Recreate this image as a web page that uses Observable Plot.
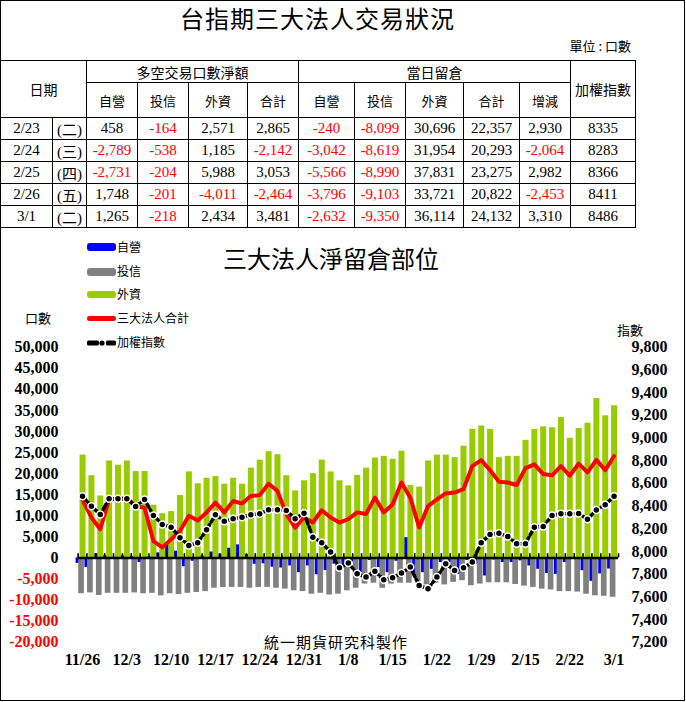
<!DOCTYPE html>
<html><head><meta charset="utf-8">
<script src="https://cdn.jsdelivr.net/npm/d3@7"></script>
<script src="https://cdn.jsdelivr.net/npm/@observablehq/plot@0.6"></script>
<style>
html,body{margin:0;padding:0;background:#fff;}
body{width:686px;height:702px;position:relative;overflow:hidden;font-family:"Noto Sans CJK TC",sans-serif;color:#000;}
.abs{position:absolute;white-space:nowrap;}
#frame{left:0;top:0;width:683px;height:699px;border:1px solid #000;}
table{position:absolute;left:0;top:60px;border-collapse:collapse;table-layout:fixed;}
td{border:1px solid #000;padding:0;text-align:center;vertical-align:middle;overflow:hidden;white-space:nowrap;}
td.h{font-family:"Noto Sans CJK TC";font-size:14px;}
td.n{font-family:"Liberation Serif","Noto Sans CJK TC";font-size:15px;}
.neg{color:#ff0000;}
.leg{position:absolute;left:87px;width:29px;}
.legt{position:absolute;left:117px;font-size:12px;line-height:14px;}
svg.sw{display:block;}
</style></head>
<body>
<div id="frame" class="abs"></div>
<div class="abs" style="left:0;top:3px;width:635px;text-align:center;font-size:24px;line-height:30px;letter-spacing:1px;">台指期三大法人交易狀況</div>
<div class="abs" style="left:500px;top:37px;width:131px;text-align:right;font-size:13px;line-height:18px;">單位 : 口數</div>
<table id="tbl"></table>
<div id="chart" class="abs" style="left:0;top:230px;"></div>
<div class="abs" style="left:223px;top:243px;font-size:24px;line-height:30px;">三大法人淨留倉部位</div>
<div class="abs" style="left:264px;top:632px;font-size:15px;line-height:20px;letter-spacing:1px;">統一期貨研究科製作</div>
<div class="abs" style="left:25px;top:309px;font-size:13px;line-height:18px;">口數</div>
<div class="abs" style="left:617px;top:321px;font-size:13px;line-height:18px;">指數</div>
<div id="legend"></div>
<script>
// ---- table data (last five sessions) ----
const tDates = ["2/23","2/24","2/25","2/26","3/1"];
const tWeekdays = ["(二)","(三)","(四)","(五)","(二)"];
const tradeDealer = [458,-2789,-2731,1748,1265];
const tradeTrust = [-164,-538,-204,-201,-218];
const tradeForeign = [2571,1185,5988,-4011,2434];
const tradeTotal = [2865,-2142,3053,-2464,3481];
const oiDealer = [-240,-3042,-5566,-3796,-2632];
const oiTrust = [-8099,-8619,-8990,-9103,-9350];
const oiForeign = [30696,31954,37831,33721,36114];
const oiTotal = [22357,20293,23275,20822,24132];
const oiChange = [2930,-2064,2982,-2453,3310];
const tIndex = [8335,8283,8366,8411,8486];

// ---- chart data ----
const dates = ["11/26","11/27","11/30","12/1","12/2","12/3","12/4","12/7","12/8","12/9","12/10","12/11","12/14","12/15","12/16","12/17","12/18","12/21","12/22","12/23","12/24","12/25","12/28","12/29","12/30","12/31","1/4","1/5","1/6","1/7","1/8","1/11","1/12","1/13","1/14","1/15","1/18","1/19","1/20","1/21","1/22","1/25","1/26","1/27","1/28","1/29","1/30","2/1","2/2","2/3","2/15","2/16","2/17","2/18","2/19","2/22","2/23","2/24","2/25","2/26","3/1"];
const dealer = [-1300,-2300,1000,500,-300,500,300,-1100,300,1200,3400,1600,-2100,-800,500,1400,900,2300,3100,800,-1500,-1400,-2200,-2400,-1900,-3500,-1900,-4000,-3000,-1500,-2000,-1000,-3500,-600,-2300,-3500,-800,4800,-3500,-3500,-2700,-1100,-1100,-3900,-600,-1500,-4300,-500,-1100,-1100,-700,-1900,-2700,-3700,-3900,-1100,-240,-3042,-5566,-3796,-2632];
const trust = [-8500,-8300,-8900,-8400,-8400,-8400,-8300,-8500,-8400,-9000,-8500,-8700,-8400,-8200,-8000,-7200,-7000,-7000,-7000,-7200,-7000,-7000,-7200,-7400,-7800,-8000,-8600,-8400,-8800,-8600,-7800,-7200,-6200,-6000,-7200,-6200,-6000,-6000,-5600,-6400,-6000,-6400,-5800,-5400,-6600,-6200,-5900,-5900,-5900,-6300,-6700,-7000,-7400,-7600,-8000,-8000,-8099,-8619,-8990,-9103,-9350];
const foreign = [24400,19500,14700,23000,22000,23000,20500,20500,12500,10500,11000,14800,20400,17600,18900,19300,17500,18900,17500,21300,23200,25200,24500,19500,15900,18300,20000,23200,20400,18300,17100,19600,21300,23700,24100,23400,25300,17200,16800,23000,24400,24400,23800,26500,30500,31300,30500,23800,24100,24100,27900,30500,31100,30900,33300,28400,30696,31954,37831,33721,36114];
const total = [13700,9600,6800,13900,14000,14200,12300,11900,4000,2500,4400,6400,10000,8900,10800,13100,10800,13500,12900,14700,14900,17600,15900,10400,7200,9600,8400,11300,9600,8400,9200,10800,10400,14300,10800,12700,17900,14300,7200,12300,13900,15300,15500,16300,21800,23200,20800,18100,17900,17300,21300,22200,19900,19600,21800,19500,22357,20293,23275,20822,24132];
const taiex = [8487,8399,8326,8464,8464,8464,8396,8458,8317,8238,8214,8121,8053,8077,8191,8323,8267,8288,8302,8323,8332,8367,8367,8361,8288,8337,8126,8077,7994,7856,7897,7804,7774,7826,7751,7768,7809,7862,7700,7671,7774,7892,7833,7856,7906,8077,8150,8161,8132,8068,8068,8214,8220,8317,8332,8332,8335,8283,8366,8411,8486];
const leftTicks = [-20000,-15000,-10000,-5000,0,5000,10000,15000,20000,25000,30000,35000,40000,45000,50000];
const rightTicks = [7200,7400,7600,7800,8000,8200,8400,8600,8800,9000,9200,9400,9600,9800];
const seriesNames = ["自營","投信","外資","三大法人合計","加權指數"];
const seriesColors = ["#0000ff","#808080","#99cc00","#ff0000","#000000"];

// ---- table ----
const locale = d3.formatLocale({decimal: ".", thousands: ",", grouping: [3], currency: ["", ""], minus: "-"});
const fmt = locale.format(",");
const tbl = document.getElementById("tbl");
const widths = [52,34,51,51,59,51,56,51,58,56,51,65];
let html = "<colgroup>" + widths.map(w => `<col style="width:${w}px">`).join("") + "</colgroup>";
html += `<tr style="height:22px"><td class="h" colspan="2" rowspan="2">日期</td><td class="h" colspan="4">多空交易口數淨額</td><td class="h" colspan="5">當日留倉</td><td class="h" rowspan="2">加權指數</td></tr>`;
html += `<tr style="height:35px">` + ["自營","投信","外資","合計","自營","投信","外資","合計","增減"].map(s => `<td class="h" style="font-size:13px">${s}</td>`).join("") + `</tr>`;
const cell = v => `<td class="n${v < 0 ? " neg" : ""}">${fmt(v)}</td>`;
tDates.forEach((d, i) => {
  html += `<tr style="height:21px"><td class="n">${d}</td><td class="n">${tWeekdays[i]}</td>` +
    [tradeDealer[i], tradeTrust[i], tradeForeign[i], tradeTotal[i], oiDealer[i], oiTrust[i], oiForeign[i], oiTotal[i], oiChange[i]].map(cell).join("") +
    `<td class="n">${tIndex[i]}</td></tr>`;
});
tbl.innerHTML = html;

// ---- legend ----
const leg = document.getElementById("legend");
const legY = [247, 271.5, 294.5, 318.5, 342.5];
const legH = [8, 8, 7, 5, 5];
seriesNames.forEach((name, i) => {
  if (i < 4) {
    const s = document.createElement("div");
    s.className = "leg";
    s.style.cssText = `top:${legY[i] - legH[i] / 2}px;height:${legH[i]}px;background:${seriesColors[i]};border-radius:3px;`;
    leg.appendChild(s);
  } else {
    const s = document.createElement("div");
    s.style.cssText = `position:absolute;left:87px;top:${legY[i] - 4}px;width:29px;height:8px;line-height:0;`;
    s.innerHTML = `<svg class="sw" width="29" height="8"><rect x="0" y="1.5" width="12" height="5" rx="1.5" fill="#000"/><circle cx="15" cy="4" r="2.6" fill="#000"/><rect x="19" y="1.5" width="10" height="5" rx="1.5" fill="#000"/></svg>`;
    leg.appendChild(s);
  }
  const t = document.createElement("div");
  t.className = "legt";
  t.style.top = (legY[i] - 7.5) + "px";
  t.textContent = name;
  leg.appendChild(t);
});

// ---- chart ----
const n = dates.length;
const idxToY = v => (v - 7200) / 2600 * 70000 - 20000;
const yToIdx = u => (u + 20000) / 70000 * 2600 + 7200;
const rows = dates.map((d, i) => ({i, date: d, dealer: dealer[i], trust: trust[i], foreign: foreign[i], total: total[i], idx: taiex[i]}));
const axisFont = {fontFamily: "Liberation Serif", fontSize: 16, fontWeight: "bold", label: null};

const plot = Plot.plot({
  width: 686, height: 460,
  marginTop: 116.7, marginBottom: 48.3, marginLeft: 77.6, marginRight: 68,
  x: {type: "linear", domain: [-0.5, n - 0.5], label: null},
  y: {domain: [-20000, 50000], label: null},
  style: {background: "transparent", overflow: "visible"},
  marks: [
    Plot.rect(rows, {x1: d => d.i - 0.45 - 0.28, x2: d => d.i - 0.45 + 0.28, y1: 0, y2: "dealer", fill: seriesColors[0]}),
    Plot.rect(rows, {x1: d => d.i - 0.11 - 0.32, x2: d => d.i - 0.11 + 0.32, y1: 0, y2: "trust", fill: seriesColors[1]}),
    Plot.rect(rows, {x1: d => d.i + 0.06 - 0.34, x2: d => d.i + 0.06 + 0.34, y1: 0, y2: "foreign", fill: seriesColors[2]}),
    Plot.ruleY([0], {stroke: "#000", strokeWidth: 2.5}),
    Plot.ruleX(d3.range(-0.5, n, 1), {x: d => d, y1: 0, y2: 1000, stroke: "#000", strokeWidth: 1.6}),
    Plot.lineY(rows, {x: "i", y: "total", stroke: seriesColors[3], strokeWidth: 4, strokeLinejoin: "round"}),
    Plot.lineY(rows, {x: "i", y: d => idxToY(d.idx), stroke: "#000", strokeWidth: 3.5, strokeDasharray: "5,3"}),
    Plot.dot(rows, {x: "i", y: d => idxToY(d.idx), r: 3.5, fill: "#000", stroke: "#fff", strokeWidth: 1.5}),
    Plot.axisY(leftTicks.filter(t => t >= 0), {anchor: "left", tickSize: 0, tickPadding: 19.6, tickFormat: fmt, fill: "#000", ...axisFont}),
    Plot.axisY(leftTicks.filter(t => t < 0), {anchor: "left", tickSize: 0, tickPadding: 19.6, tickFormat: fmt, fill: "#ff0000", ...axisFont}),
    Plot.axisY(rightTicks.map(idxToY), {anchor: "right", tickSize: 0, tickPadding: 13, tickFormat: u => fmt(Math.round(yToIdx(u))), fill: "#000", ...axisFont}),
    Plot.axisX(d3.range(0, n, 5), {anchor: "bottom", tickSize: 0, tickPadding: 11, tickFormat: i => dates[i], fill: "#000", ...axisFont})
  ]
});
document.getElementById("chart").appendChild(plot);
</script>
</body></html>
